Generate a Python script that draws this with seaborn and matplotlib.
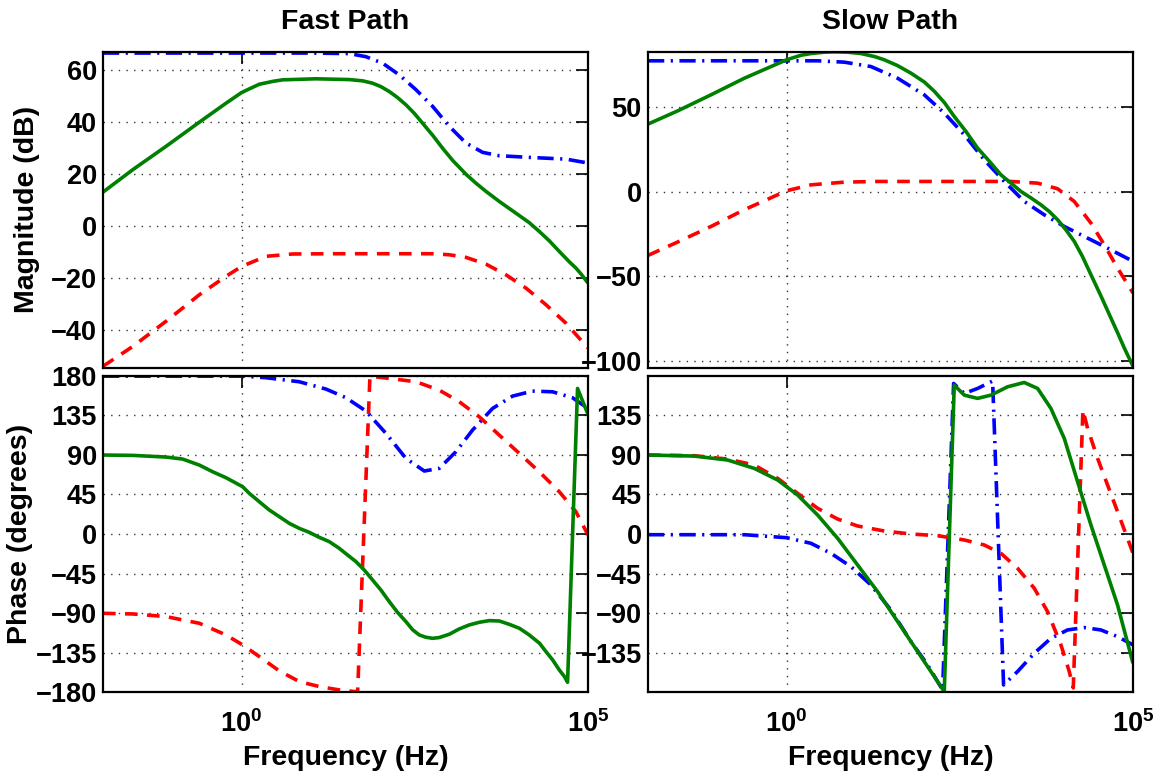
import matplotlib
matplotlib.use("Agg")
import matplotlib.pyplot as plt
from matplotlib.ticker import NullLocator, FixedLocator
import numpy as np
import pandas as pd
import seaborn as sns

# ---------------- data (log10 frequency in decades) ----------------
FAST_MAG_GREEN_LOGF = [-2.0, -1.572, -1.091, -0.610, -0.225, 0.0, 0.11, 0.256, 0.45, 0.593, 1.074,
                       1.555, 1.75, 1.891, 2.01, 2.132, 2.25, 2.372, 2.49, 2.613, 2.76, 2.901,
                       3.05, 3.238, 3.38, 3.527, 3.72, 3.960, 4.15, 4.296, 4.44, 4.585, 4.73,
                       4.825, 4.90, 5.0]
FAST_MAG_GREEN = [13.2, 21.8, 30.8, 40.1, 47.4, 51.5, 52.9, 54.7, 55.8, 56.4, 56.8,
                  56.5, 56.0, 55.1, 53.8, 51.9, 49.6, 46.8, 43.6, 39.7, 35.0, 30.1,
                  25.3, 20.1, 16.7, 13.5, 9.6, 5.1, 1.5, -1.9, -5.5, -9.6, -13.6,
                  -16.0, -18.3, -21.8]

FAST_MAG_BLUE_LOGF = [-2.0, 0.0, 1.0, 1.555, 1.795, 2.036, 2.276, 2.517, 2.757, 2.998, 3.238,
                      3.479, 3.719, 4.200, 4.681, 5.0]
FAST_MAG_BLUE = [66.7, 66.7, 66.7, 66.5, 65.3, 62.8, 58.3, 52.6, 46.2, 38.5, 32.1,
                 28.5, 27.2, 26.5, 25.9, 24.4]

FAST_MAG_RED_LOGF = [-2.0, -1.572, -1.091, -0.610, -0.225, 0.0, 0.352, 0.737, 1.314, 2.757, 2.998,
                     3.238, 3.527, 3.815, 4.104, 4.393, 4.681, 5.0]
FAST_MAG_RED = [-53.8, -46.2, -36.5, -26.3, -19.2, -15.4, -11.5, -10.6, -10.5, -10.5, -10.9,
                -11.9, -14.5, -18.6, -23.7, -30.1, -37.2, -46.8]

SLOW_MAG_GREEN_LOGF = [-2.0, -1.572, -1.091, -0.610, 0.0, 0.21, 0.352, 0.545, 0.689, 0.88, 1.074,
                       1.27, 1.410, 1.60, 1.795, 1.99, 2.132, 2.28, 2.420, 2.59, 2.757, 2.93,
                       3.094, 3.24, 3.382, 3.53, 3.671, 3.79, 3.911, 4.03, 4.152, 4.27, 4.393,
                       4.54, 4.681, 4.78, 4.874, 5.0]
SLOW_MAG_GREEN = [40.0, 47.8, 57.3, 67.1, 78.0, 80.7, 81.7, 82.5, 82.7, 82.5, 81.7,
                  79.9, 78.0, 74.6, 70.1, 64.8, 59.4, 52.6, 44.5, 35.6, 25.8, 17.9,
                  10.0, 5.1, 0.2, -3.7, -7.7, -11.6, -16.5, -22.4, -29.3, -38.2, -49.0,
                  -61.8, -74.6, -83.5, -92.3, -103.1]

SLOW_MAG_BLUE_LOGF = [-2.0, 0.448, 0.833, 1.218, 1.603, 1.987, 2.276, 2.565, 2.853, 3.142, 3.430,
                      3.719, 4.008, 4.296, 4.585, 5.0]
SLOW_MAG_BLUE = [77.4, 77.4, 76.6, 74.0, 67.1, 57.3, 46.5, 33.7, 18.9, 6.1, -5.7,
                 -13.6, -20.5, -26.4, -32.3, -41.1]

SLOW_MAG_RED_LOGF = [-2.0, -1.572, -1.091, -0.610, 0.0, 0.352, 0.833, 1.314, 3.238, 3.623, 3.911,
                     4.152, 4.393, 4.585, 4.777, 5.0]
SLOW_MAG_RED = [-37.6, -29.7, -20.5, -10.6, 0.6, 4.1, 5.7, 6.1, 6.1, 5.1, 1.8,
                -5.7, -18.5, -31.3, -45.1, -59.8]

FAST_PH_GREEN_LOGF = [-2.0, -1.572, -1.091, -0.85, -0.610, -0.418, -0.225, 0.015, 0.112, 0.256, 0.40,
                      0.545, 0.689, 0.833, 0.977, 1.122, 1.266, 1.410, 1.53, 1.651, 1.77, 1.891,
                      2.01, 2.132, 2.25, 2.372, 2.47, 2.565, 2.66, 2.757, 2.85, 2.998, 3.14,
                      3.286, 3.43, 3.575, 3.72, 3.863, 4.01, 4.152, 4.30, 4.393, 4.49, 4.585,
                      4.66, 4.705, 4.849, 5.0]
FAST_PH_GREEN = [89.8, 89.4, 87.5, 85.2, 78.4, 70.8, 64.0, 53.8, 46.2, 36.7, 27.3,
                 19.7, 12.1, 6.4, 1.9, -3.8, -8.7, -16.3, -23.9, -31.4, -40.9, -52.3,
                 -63.6, -76.9, -89.0, -99.6, -109.0, -114.8, -117.4, -118.6, -117.8, -114.0, -108.0,
                 -103.4, -100.4, -98.5, -98.9, -102.7, -107.2, -114.8, -124.2, -133.7, -143.2, -154.5,
                 -162.1, -168.6, 165.5, 136.0]

FAST_PH_BLUE_LOGF = [-2.0, 0.015, 0.352, 0.833, 1.218, 1.506, 1.795, 2.084, 2.372, 2.637, 2.853,
                     3.094, 3.334, 3.623, 3.911, 4.200, 4.489, 4.777, 5.0]
FAST_PH_BLUE = [179.5, 179.5, 177.7, 173.1, 164.8, 155.0, 139.8, 114.4, 86.0, 71.6, 74.6,
                93.6, 118.2, 142.8, 156.8, 162.5, 161.7, 154.9, 142.8]

FAST_PH_RED_LOGF = [-2.0, -1.572, -1.091, -0.610, -0.225, 0.015, 0.256, 0.545, 0.833, 1.122, 1.410,
                    1.675, 1.853, 2.132, 2.517, 2.853, 3.142, 3.430, 3.719, 4.008, 4.296, 4.585,
                    4.825, 5.0]
FAST_PH_RED = [-90.2, -90.9, -93.9, -101.5, -114.8, -126.1, -139.4, -155.7, -167.8, -173.5, -177.3,
               -179.5, 179.5, 176.9, 173.1, 163.6, 150.4, 133.3, 112.5, 91.7, 70.8, 48.1,
               25.4, -1.1]

SLOW_PH_GREEN_LOGF = [-2.0, -1.331, -0.850, -0.466, -0.129, 0.160, 0.448, 0.737, 1.025, 1.314, 1.603,
                      1.891, 2.132, 2.276, 2.420, 2.565, 2.757, 2.949, 3.190, 3.430, 3.623, 3.815,
                      4.008, 4.200, 4.393, 4.585, 4.777, 5.0]
SLOW_PH_GREEN = [89.8, 88.6, 84.1, 74.6, 61.4, 44.3, 21.6, -4.9, -35.2, -65.5, -99.6,
                 -133.7, -162.1, -179.2, 169.3, 157.9, 154.2, 157.9, 167.4, 172.3, 165.5, 142.8,
                 108.7, 59.5, 10.2, -35.2, -80.7, -147.0]

SLOW_PH_BLUE_LOGF = [-2.0, -0.610, 0.001, 0.352, 0.641, 0.929, 1.218, 1.506, 1.795, 2.036, 2.252,
                     2.411, 2.565, 2.757, 2.974, 3.132, 3.334, 3.575, 3.815, 4.056, 4.296, 4.537,
                     4.777, 5.0]
SLOW_PH_BLUE = [-0.8, -0.8, -4.2, -10.6, -22.0, -37.1, -58.0, -86.4, -122.3, -148.9, -177.3,
                171.2, 159.8, 165.5, 173.9, -171.6, -156.4, -135.6, -118.6, -109.1, -106.4, -109.1,
                -116.7, -126.1]

SLOW_PH_RED_LOGF = [-2.0, -1.331, -0.850, -0.466, -0.129, 0.160, 0.448, 0.737, 1.025, 1.410, 1.795,
                    2.180, 2.565, 2.853, 3.094, 3.334, 3.575, 3.767, 3.960, 4.080, 4.138, 4.277,
                    4.345, 4.489, 4.633, 4.777, 4.921, 5.0]
SLOW_PH_RED = [89.8, 89.0, 85.2, 78.4, 63.3, 46.2, 29.2, 17.0, 9.1, 3.4, 0.0,
               -1.9, -6.8, -12.5, -22.0, -39.0, -61.7, -88.3, -126.1, -156.4, -175.0, 141.0,
               120.0, 86.0, 55.7, 25.4, -4.9, -22.0]

TITLES = ["Fast Path", "Slow Path"]
YLABELS = ["Magnitude (dB)", "Phase (degrees)"]
XLABEL = "Frequency (Hz)"
XTICKS = [1.0, 1e5]
XTICKLABELS = [r"$10^{0}$", r"$10^{5}$"]
FAST_MAG_TICKS = [-40, -20, 0, 20, 40, 60]
SLOW_MAG_TICKS = [-100, -50, 0, 50]
FAST_PH_TICKS = [-180, -135, -90, -45, 0, 45, 90, 135, 180]
SLOW_PH_TICKS = [-135, -90, -45, 0, 45, 90, 135]

# ---------------- style ----------------
sns.set_theme(style="white", rc={
    "axes.edgecolor": "black",
    "axes.linewidth": 1.6,
    "xtick.color": "black",
    "ytick.color": "black",
    "text.color": "black",
    "axes.labelcolor": "black",
})
plt.rcParams["font.family"] = ["Liberation Sans", "DejaVu Sans"]
plt.rcParams["font.weight"] = "bold"
plt.rcParams["axes.labelweight"] = "bold"
plt.rcParams["axes.titleweight"] = "bold"
plt.rcParams["mathtext.fontset"] = "custom"
plt.rcParams["mathtext.rm"] = "Liberation Sans:bold"
plt.rcParams["mathtext.it"] = "Liberation Sans:bold"
plt.rcParams["mathtext.bf"] = "Liberation Sans:bold"
plt.rcParams["mathtext.default"] = "rm"

ORDER = ["blue", "red", "green"]
PALETTE = {"blue": (0, 0, 1), "red": (1, 0, 0), "green": (0, 0.5, 0)}
DASHES = {"blue": (4.5, 1.8, 0.6, 1.8), "red": (3.5, 2.6), "green": ""}

TICK_FS = 19.5
LABEL_FS = 20.5


def frame(curves):
    parts = []
    for name, logf, vals in curves:
        parts.append(pd.DataFrame({"freq": np.power(10.0, np.asarray(logf)),
                                   "value": vals, "series": name}))
    return pd.concat(parts, ignore_index=True)


W, H = 1161, 778
fig = plt.figure(figsize=(W / 100, H / 100), dpi=100)

col_x = [103, 648]
axw = 485
row_top = [51.5, 375.7]
axh = 316.6


def make_ax(col, row):
    x0 = col_x[col] / W
    y0 = 1 - (row_top[row] + axh) / H
    return fig.add_axes([x0, y0, axw / W, axh / H])


panels = [
    (0, 0, [("blue", FAST_MAG_BLUE_LOGF, FAST_MAG_BLUE), ("red", FAST_MAG_RED_LOGF, FAST_MAG_RED),
            ("green", FAST_MAG_GREEN_LOGF, FAST_MAG_GREEN)], (-54.5, 67.3), FAST_MAG_TICKS),
    (1, 0, [("blue", SLOW_MAG_BLUE_LOGF, SLOW_MAG_BLUE), ("red", SLOW_MAG_RED_LOGF, SLOW_MAG_RED),
            ("green", SLOW_MAG_GREEN_LOGF, SLOW_MAG_GREEN)], (-104.2, 82.9), SLOW_MAG_TICKS),
    (0, 1, [("blue", FAST_PH_BLUE_LOGF, FAST_PH_BLUE), ("red", FAST_PH_RED_LOGF, FAST_PH_RED),
            ("green", FAST_PH_GREEN_LOGF, FAST_PH_GREEN)], (-180, 180), FAST_PH_TICKS),
    (1, 1, [("blue", SLOW_PH_BLUE_LOGF, SLOW_PH_BLUE), ("red", SLOW_PH_RED_LOGF, SLOW_PH_RED),
            ("green", SLOW_PH_GREEN_LOGF, SLOW_PH_GREEN)], (-180, 180), SLOW_PH_TICKS),
]

for col, row, curves, ylim, yticks in panels:
    ax = make_ax(col, row)
    ax.set_xscale("log")
    df = frame(curves)
    sns.lineplot(data=df, x="freq", y="value", hue="series", style="series",
                 hue_order=ORDER, style_order=ORDER, palette=PALETTE, dashes=DASHES,
                 sort=False, estimator=None, linewidth=2.6, legend=False, ax=ax)
    for ln in ax.get_lines():
        ln.set_solid_joinstyle("round")
        ln.set_solid_capstyle("butt")
    ax.set_xlim(1e-2, 1e5)
    ax.set_ylim(*ylim)
    ax.xaxis.set_major_locator(FixedLocator(XTICKS))
    ax.xaxis.set_minor_locator(NullLocator())
    ax.set_yticks(yticks)
    ax.grid(True, which="major", linestyle=(0, (1, 4.5)), color="0.2", linewidth=1.0)
    ax.tick_params(which="both", direction="in", length=8.6, width=1.2, top=True, right=True,
                   labelsize=TICK_FS, pad=4.5)
    ax.tick_params(axis="x", pad=13)
    for s in ax.spines.values():
        s.set_linewidth(1.6)
        s.set_zorder(5)
    ax.set_xlabel("")
    ax.set_ylabel("")
    if row == 1:
        ax.set_xticklabels(XTICKLABELS)
        ax.set_xlabel(XLABEL, fontsize=LABEL_FS, fontweight="bold", labelpad=5)
    else:
        ax.tick_params(axis="x", labelbottom=False)
        ax.set_title(TITLES[col], fontsize=LABEL_FS, fontweight="bold", pad=16)
    if col == 0:
        ax.set_ylabel(YLABELS[row], fontsize=LABEL_FS, fontweight="bold")
        xr = (40 - 103) / axw if row == 0 else (33 - 103) / axw
        ax.yaxis.set_label_coords(xr, 0.5)

fig.savefig("out.png", dpi=100)
